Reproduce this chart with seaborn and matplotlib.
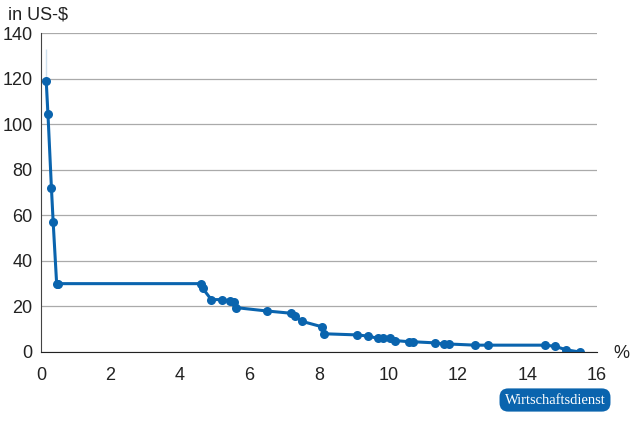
import matplotlib
matplotlib.use("Agg")
import matplotlib.pyplot as plt
import seaborn as sns
import pandas as pd

share = [0.15,0.15,0.2,0.3,0.35,0.45,0.5,4.6,4.65,4.9,5.2,5.45,5.55,5.6,6.5,6.5,7.2,7.3,7.3,7.5,8.1,8.15,9.1,9.4,9.7,9.85,10.05,10.2,10.6,10.7,11.35,11.6,11.75,12.5,12.85,14.5,14.8,15.1,15.5]
price = [133,105,104.5,72,57,30,30,30,28,23,23,22.5,22,19.5,18.5,17.5,17,16.5,15,13.5,11,8,7.5,7,6,6,6,5,4.5,4.5,4,3.5,3.5,3,3,3,2.5,1,0]
df = pd.DataFrame({"x": share, "y": price})

sns.set_style("white")
plt.rcParams['font.family'] = ['Liberation Sans', 'DejaVu Sans']
fig = plt.figure(figsize=(6.3, 4.22), dpi=100)
ax = fig.add_axes([41/630, 70/422, 556/630, 319/422])
blue = "#0a64ae"
sns.lineplot(data=df, x="x", y="y", ax=ax, color=blue, lw=2.2, sort=False,
             marker="o", markersize=6.5, markeredgewidth=0, markeredgecolor=blue)
ax.set_xlim(0, 16); ax.set_ylim(0, 140)
ax.set_xticks(range(0, 17, 2)); ax.set_yticks(range(0, 141, 20))
ax.yaxis.grid(True, color="#aaaaaa", lw=0.9)
ax.set_xlabel(""); ax.set_ylabel("")
for s in ["top", "right"]:
    ax.spines[s].set_visible(False)
ax.spines["left"].set_color("#444444"); ax.spines["bottom"].set_color("#222222")
ax.tick_params(axis="both", labelsize=13, colors="#222222", length=0, pad=6)
ax.tick_params(axis="x", length=5, direction="out", color="#444444")
ax.text(-0.06, 1.03, "in US-$", transform=ax.transAxes, fontsize=13, color="#222222", ha="left", va="bottom")
ax.text(1.03, -0.03, "%", transform=ax.transAxes, fontsize=13, color="#222222", ha="left", va="bottom")
fig.text(555/630, 22/422, "Wirtschaftsdienst", fontsize=10.5, family="Liberation Serif", color="white",
         ha="center", va="center",
         bbox=dict(boxstyle="round,pad=0.35,rounding_size=0.6", fc=blue, ec="none"))
fig.savefig("out.png", dpi=100)
